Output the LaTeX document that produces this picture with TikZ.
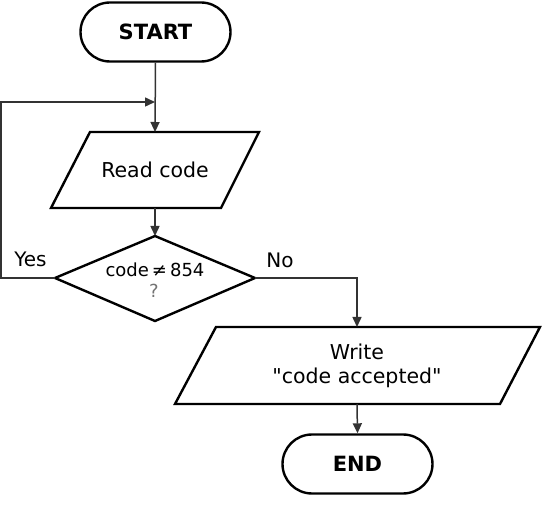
\documentclass[tikz,border=0pt]{standalone}
\usepackage{fontspec}
\setmainfont{DejaVu Sans}
\newfontfamily\dv{DejaVu Sans}
\usetikzlibrary{arrows.meta,shapes.misc}
\begin{document}
\begin{tikzpicture}[x=1pt,y=-1pt,
  term/.style={draw, line width=2.4pt, rounded rectangle, minimum width=150pt, minimum height=59pt, inner sep=0pt, font=\bfseries\fontsize{21}{24}\selectfont},
  shapeline/.style={draw, line width=2.4pt, line join=miter},
  txt/.style={font=\dv\fontsize{20.5}{24.5}\selectfont, align=center, inner sep=0pt},
  lbl/.style={font=\fontsize{20}{22}\selectfont, inner sep=0pt},
  conn/.style={draw=black!80, line width=1.5pt, -{Triangle[length=10pt,width=9pt]}}]
\useasboundingbox (0,0) rectangle (542,505);
% terminals
\node[term] (start) at (155.5,32) {START};
\node[term] (end) at (357.5,464) {END};
% read code
\draw[shapeline] (90,132) -- (259,132) -- (221,208) -- (51,208) -- cycle;
\node[txt] (read) at (155,170) {Read code};
\coordinate (readT) at (155,132);
\coordinate (readB) at (155,208);
% decision
\draw[shapeline] (155,236) -- (255,278) -- (155,321) -- (55,278) -- cycle;
\coordinate (diaT) at (155,236);
\coordinate (diaL) at (55,278);
\coordinate (diaR) at (255,278);
\node[font=\fontsize{18}{20}\selectfont, inner sep=0pt] (cond) at (155,270) {code\,≠\,854};
\node[font=\fontsize{18}{20}\selectfont, inner sep=0pt, text=black!55] (q) at (154,291) {?};
% write
\draw[shapeline] (216,327) -- (540,327) -- (500,404) -- (175,404) -- cycle;
\node[txt] (write) at (357,366) {Write\\"code accepted"};
\coordinate (writeT) at (357,327);
\coordinate (writeB) at (357,404);
% connectors
\coordinate (join) at (155,102);
\coordinate (loopL) at (1,278);
\draw[conn] (start.south) -- (readT);
\draw[conn] (readB) -- (diaT);
\draw[conn] (diaL) -- (loopL) |- (join);
\draw[conn] (diaR) -| (writeT);
\draw[conn] (writeB) -- (end.north);
% labels
\node[lbl] (yes) at (30.5,259) {Yes};
\node[lbl] (no) at (280,260) {No};
\end{tikzpicture}
\end{document}
